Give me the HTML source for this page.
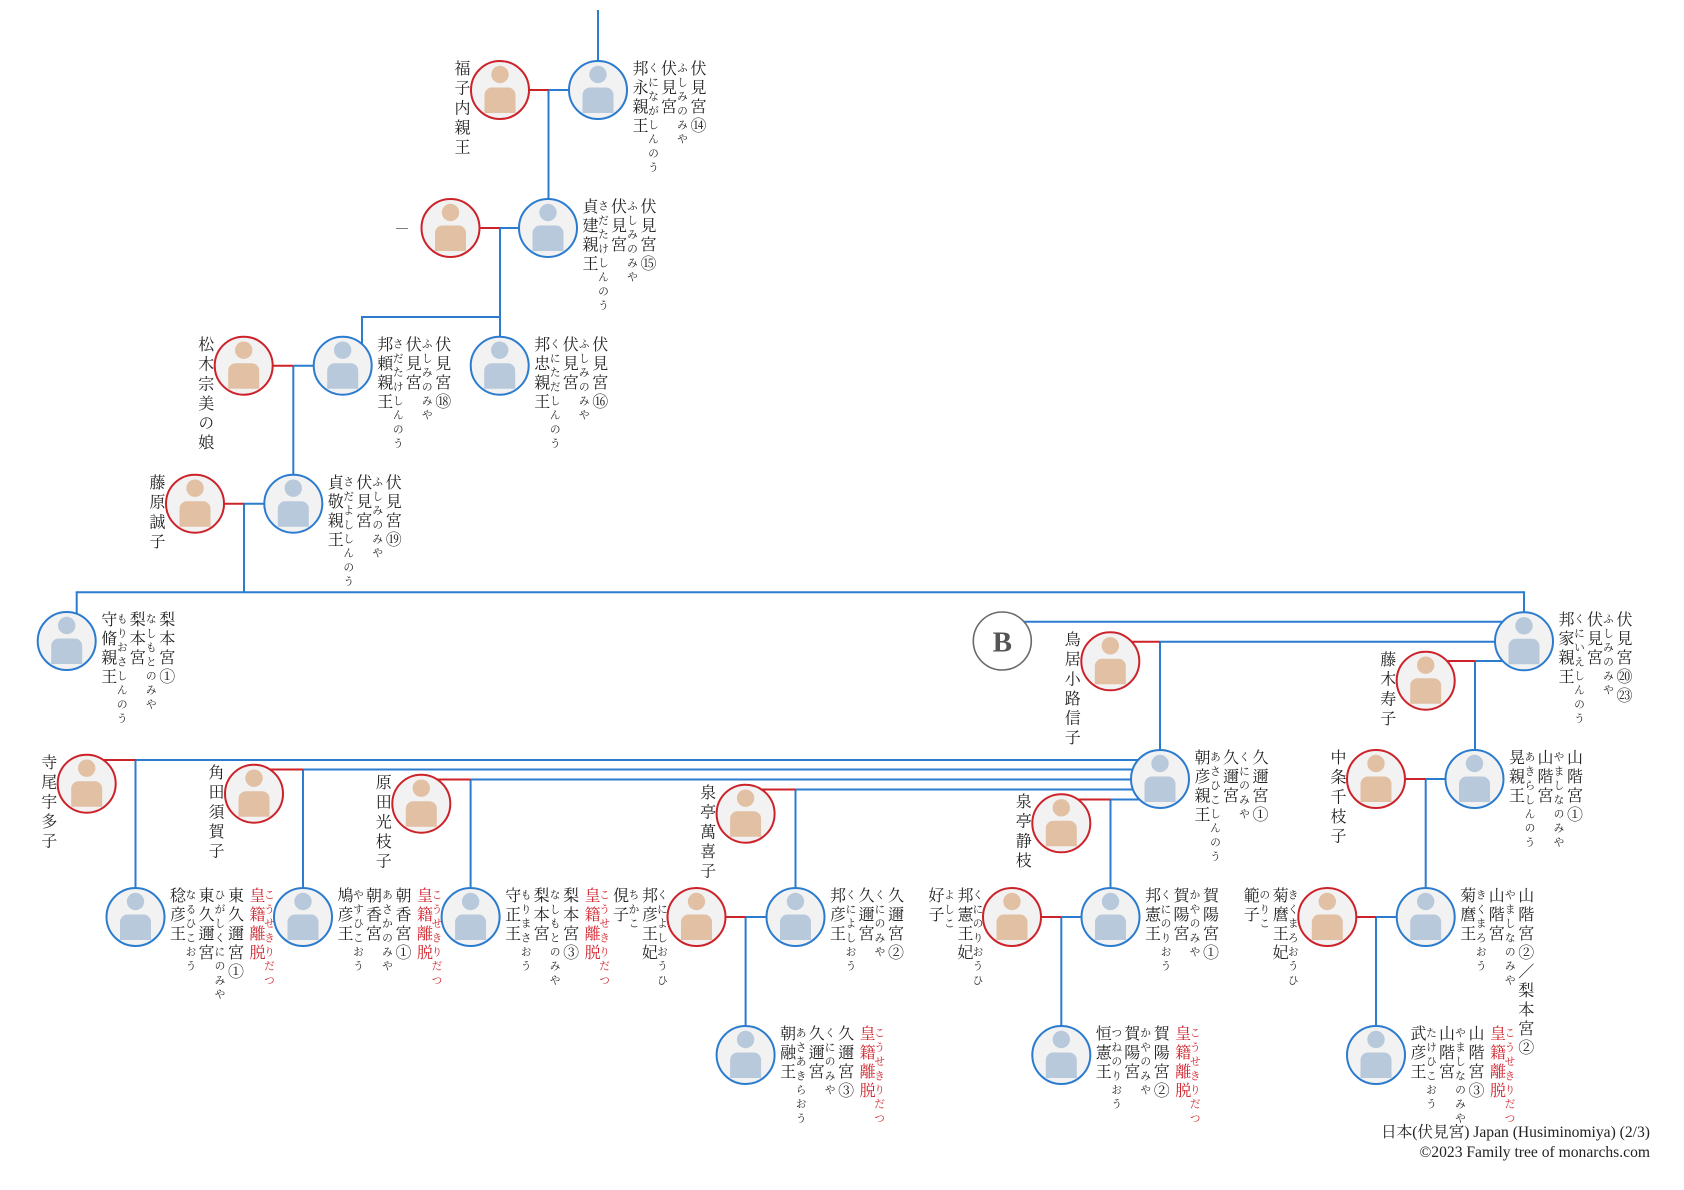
<!DOCTYPE html>
<html lang="ja">
<head>
<meta charset="utf-8">
<style>
html,body{margin:0;padding:0;background:#fff;}
body{width:1684px;height:1190px;position:relative;overflow:hidden;font-family:"Liberation Serif","Noto Serif CJK SC",serif;}
svg{position:absolute;left:0;top:0;}
.g{position:absolute;width:0;height:0;}
.g span{position:absolute;writing-mode:vertical-rl;white-space:nowrap;line-height:1;color:#222;font-family:"Liberation Serif","Noto Serif CJK SC",serif;}
.b{font-size:16px;letter-spacing:3px;top:-30px;}
.s{font-size:11px;letter-spacing:3.2px;top:-28px;}
.n{left:32px;} .nr{left:48.5px;} .h{left:60.5px;} .hr{left:77.5px;} .ti{left:90px;}
.rb{left:111.5px;} .rs{left:127px;}
.g .rb,.g .rs{color:#d0212a;}
.f{left:-48px;letter-spacing:3.6px !important;}
.fn{left:-86px;} .fnr{left:-69.5px;} .ft{left:-57px;} .ftr{left:-41px;}
.foot{position:absolute;right:34px;font-size:15.6px;line-height:20px;color:#222;white-space:nowrap;text-align:right;font-family:"Liberation Serif","Noto Serif CJK SC",serif;}
.dash{position:absolute;left:396px;top:221px;font-size:12px;line-height:12px;color:#222;}
</style>
</head>
<body>
<svg width="1684" height="1190" viewBox="0 0 1684 1190" xmlns="http://www.w3.org/2000/svg">
<defs>
<g id="M">
<circle r="29" fill="#f2f2f2" stroke="#2b7bcf" stroke-width="2"/>
<circle cy="-15.5" r="8.7" fill="#b8c9dc"/>
<path d="M-15.5,23 V5 A7.5,7.5 0 0 1 -8,-2.5 H8 A7.5,7.5 0 0 1 15.5,5 V23 Z" fill="#b8c9dc"/>
</g>
<g id="F">
<circle r="29" fill="#f2f2f2" stroke="#cc2229" stroke-width="2"/>
<circle cy="-15.5" r="8.7" fill="#e2c0a4"/>
<path d="M-15.5,23 V5 A7.5,7.5 0 0 1 -8,-2.5 H8 A7.5,7.5 0 0 1 15.5,5 V23 Z" fill="#e2c0a4"/>
</g>
</defs>

<g stroke="#2b7bcf" stroke-width="2" fill="none">
<line x1="598" y1="10" x2="598" y2="90"/>
<line x1="548.5" y1="90" x2="598" y2="90"/>
<line x1="548.5" y1="90" x2="548.5" y2="228"/>
<line x1="500" y1="228" x2="548" y2="228"/>
<line x1="500" y1="228" x2="500" y2="366"/>
<line x1="361" y1="317" x2="501" y2="317"/>
<line x1="362" y1="317" x2="362" y2="366"/>
<line x1="293.3" y1="365.7" x2="342.7" y2="365.7"/>
<line x1="293.3" y1="365.7" x2="293.3" y2="503.7"/>
<line x1="244" y1="503.7" x2="293.3" y2="503.7"/>
<line x1="244" y1="503.7" x2="244" y2="592.3"/>
<line x1="75.7" y1="592.3" x2="1525" y2="592.3"/>
<line x1="76.7" y1="592.3" x2="76.7" y2="641"/>
<line x1="1524" y1="592.3" x2="1524" y2="641"/>
<line x1="1002.3" y1="621.7" x2="1524" y2="621.7"/>
<line x1="1160" y1="641.7" x2="1524" y2="641.7"/>
<line x1="1160" y1="641.7" x2="1160" y2="779"/>
<line x1="1475" y1="661" x2="1524" y2="661"/>
<line x1="1475" y1="661" x2="1475" y2="779"/>
<line x1="1425.7" y1="779" x2="1474.5" y2="779"/>
<line x1="1425.7" y1="779" x2="1425.7" y2="917"/>
<line x1="135.5" y1="760" x2="1160" y2="760"/>
<line x1="135.5" y1="760" x2="135.5" y2="917"/>
<line x1="303" y1="769.5" x2="1160" y2="769.5"/>
<line x1="303" y1="769.5" x2="303" y2="917"/>
<line x1="470.6" y1="779.5" x2="1160" y2="779.5"/>
<line x1="470.6" y1="779.5" x2="470.6" y2="917"/>
<line x1="795.5" y1="789.5" x2="1160" y2="789.5"/>
<line x1="795.5" y1="789.5" x2="795.5" y2="917"/>
<line x1="1110.5" y1="799.5" x2="1160" y2="799.5"/>
<line x1="1110.5" y1="799.5" x2="1110.5" y2="917"/>
<line x1="745.6" y1="917" x2="795.5" y2="917"/>
<line x1="745.6" y1="917" x2="745.6" y2="1055"/>
<line x1="1061.3" y1="917" x2="1110.5" y2="917"/>
<line x1="1061.3" y1="917" x2="1061.3" y2="1055"/>
<line x1="1376" y1="917" x2="1425.7" y2="917"/>
<line x1="1376" y1="917" x2="1376" y2="1055"/>
</g>
<g stroke="#cc2229" stroke-width="2" fill="none">
<line x1="500" y1="90" x2="548.5" y2="90"/>
<line x1="450.5" y1="228" x2="500" y2="228"/>
<line x1="243.7" y1="365.7" x2="293.3" y2="365.7"/>
<line x1="195" y1="503.7" x2="244" y2="503.7"/>
<line x1="1110.3" y1="641.7" x2="1160" y2="641.7"/>
<line x1="1425.7" y1="661" x2="1475" y2="661"/>
<line x1="1376" y1="779" x2="1425.7" y2="779"/>
<line x1="86.7" y1="760" x2="135.5" y2="760"/>
<line x1="254" y1="769.5" x2="303" y2="769.5"/>
<line x1="421.3" y1="779.5" x2="470.6" y2="779.5"/>
<line x1="745.6" y1="789.5" x2="795.5" y2="789.5"/>
<line x1="1061.3" y1="799.5" x2="1110.5" y2="799.5"/>
<line x1="696.5" y1="917" x2="745.6" y2="917"/>
<line x1="1012" y1="917" x2="1061.3" y2="917"/>
<line x1="1327.3" y1="917" x2="1376" y2="917"/>
</g>

<!-- B marker -->
<circle cx="1002.3" cy="641" r="29" fill="#fff" stroke="#6a6a6a" stroke-width="1.6"/>
<text x="1002.3" y="651.5" text-anchor="middle" font-family="Liberation Serif, serif" font-weight="bold" font-size="29" fill="#555">B</text>

<!-- males -->
<use href="#M" x="598" y="90"/>
<use href="#M" x="548" y="228"/>
<use href="#M" x="342.7" y="365.7"/>
<use href="#M" x="499.7" y="365.7"/>
<use href="#M" x="293.3" y="503.7"/>
<use href="#M" x="66.7" y="641"/>
<use href="#M" x="1524" y="641.3"/>
<use href="#M" x="1160" y="779"/>
<use href="#M" x="1474.5" y="779"/>
<use href="#M" x="135.5" y="917"/>
<use href="#M" x="303" y="917"/>
<use href="#M" x="470.6" y="917"/>
<use href="#M" x="795.5" y="917"/>
<use href="#M" x="1110.5" y="917"/>
<use href="#M" x="1425.7" y="917"/>
<use href="#M" x="745.6" y="1055"/>
<use href="#M" x="1061.3" y="1055"/>
<use href="#M" x="1376" y="1055"/>
<!-- females -->
<use href="#F" x="500" y="90"/>
<use href="#F" x="450.5" y="228"/>
<use href="#F" x="243.7" y="365.7"/>
<use href="#F" x="195" y="503.7"/>
<use href="#F" x="1110.3" y="661.3"/>
<use href="#F" x="1425.7" y="680.7"/>
<use href="#F" x="1376" y="779"/>
<use href="#F" x="86.7" y="783.7"/>
<use href="#F" x="254" y="793.7"/>
<use href="#F" x="421.3" y="803.7"/>
<use href="#F" x="745.6" y="813.7"/>
<use href="#F" x="1061.3" y="823.3"/>
<use href="#F" x="696.5" y="917"/>
<use href="#F" x="1012" y="917"/>
<use href="#F" x="1327.3" y="917"/>
</svg>

<span class="dash">—</span>

<!-- male labels -->
<div class="g" style="left:598px;top:90px"><span class="b n">邦永親王</span><span class="s nr">くにながしんのう</span><span class="b h">伏見宮</span><span class="s hr">ふしみのみや</span><span class="b ti">伏見宮⑭</span></div>
<div class="g" style="left:548px;top:228px"><span class="b n">貞建親王</span><span class="s nr">さだたけしんのう</span><span class="b h">伏見宮</span><span class="s hr">ふしみのみや</span><span class="b ti">伏見宮⑮</span></div>
<div class="g" style="left:342.7px;top:365.7px"><span class="b n">邦頼親王</span><span class="s nr">さだたけしんのう</span><span class="b h">伏見宮</span><span class="s hr">ふしみのみや</span><span class="b ti">伏見宮⑱</span></div>
<div class="g" style="left:499.7px;top:365.7px"><span class="b n">邦忠親王</span><span class="s nr">くにただしんのう</span><span class="b h">伏見宮</span><span class="s hr">ふしみのみや</span><span class="b ti">伏見宮⑯</span></div>
<div class="g" style="left:293.3px;top:503.7px"><span class="b n">貞敬親王</span><span class="s nr">さだよししんのう</span><span class="b h">伏見宮</span><span class="s hr">ふしみのみや</span><span class="b ti">伏見宮⑲</span></div>
<div class="g" style="left:66.7px;top:641px"><span class="b n">守脩親王</span><span class="s nr">もりおさしんのう</span><span class="b h">梨本宮</span><span class="s hr">なしもとのみや</span><span class="b ti">梨本宮①</span></div>
<div class="g" style="left:1524px;top:641.3px"><span class="b n">邦家親王</span><span class="s nr">くにいえしんのう</span><span class="b h">伏見宮</span><span class="s hr">ふしみのみや</span><span class="b ti">伏見宮⑳㉓</span></div>
<div class="g" style="left:1160px;top:779px"><span class="b n">朝彦親王</span><span class="s nr">あさひこしんのう</span><span class="b h">久邇宮</span><span class="s hr">くにのみや</span><span class="b ti">久邇宮①</span></div>
<div class="g" style="left:1474.5px;top:779px"><span class="b n">晃親王</span><span class="s nr">あきらしんのう</span><span class="b h">山階宮</span><span class="s hr">やましなのみや</span><span class="b ti">山階宮①</span></div>
<div class="g" style="left:135.5px;top:917px"><span class="b n">稔彦王</span><span class="s nr">なるひこおう</span><span class="b h">東久邇宮</span><span class="s hr">ひがしくにのみや</span><span class="b ti">東久邇宮①</span><span class="b rb">皇籍離脱</span><span class="s rs">こうせきりだつ</span></div>
<div class="g" style="left:303px;top:917px"><span class="b n">鳩彦王</span><span class="s nr">やすひこおう</span><span class="b h">朝香宮</span><span class="s hr">あさかのみや</span><span class="b ti">朝香宮①</span><span class="b rb">皇籍離脱</span><span class="s rs">こうせきりだつ</span></div>
<div class="g" style="left:470.6px;top:917px"><span class="b n">守正王</span><span class="s nr">もりまさおう</span><span class="b h">梨本宮</span><span class="s hr">なしもとのみや</span><span class="b ti">梨本宮③</span><span class="b rb">皇籍離脱</span><span class="s rs">こうせきりだつ</span></div>
<div class="g" style="left:795.5px;top:917px"><span class="b n">邦彦王</span><span class="s nr">くによしおう</span><span class="b h">久邇宮</span><span class="s hr">くにのみや</span><span class="b ti">久邇宮②</span></div>
<div class="g" style="left:1110.5px;top:917px"><span class="b n">邦憲王</span><span class="s nr">くにのりおう</span><span class="b h">賀陽宮</span><span class="s hr">かやのみや</span><span class="b ti">賀陽宮①</span></div>
<div class="g" style="left:1425.7px;top:917px"><span class="b n">菊麿王</span><span class="s nr">きくまろおう</span><span class="b h">山階宮</span><span class="s hr">やましなのみや</span><span class="b ti">山階宮②／梨本宮②</span></div>
<div class="g" style="left:745.6px;top:1055px"><span class="b n">朝融王</span><span class="s nr">あさあきらおう</span><span class="b h">久邇宮</span><span class="s hr">くにのみや</span><span class="b ti">久邇宮③</span><span class="b rb">皇籍離脱</span><span class="s rs">こうせきりだつ</span></div>
<div class="g" style="left:1061.3px;top:1055px"><span class="b n">恒憲王</span><span class="s nr">つねのりおう</span><span class="b h">賀陽宮</span><span class="s hr">かやのみや</span><span class="b ti">賀陽宮②</span><span class="b rb">皇籍離脱</span><span class="s rs">こうせきりだつ</span></div>
<div class="g" style="left:1376px;top:1055px"><span class="b n">武彦王</span><span class="s nr">たけひこおう</span><span class="b h">山階宮</span><span class="s hr">やましなのみや</span><span class="b ti">山階宮③</span><span class="b rb">皇籍離脱</span><span class="s rs">こうせきりだつ</span></div>

<!-- female labels -->
<div class="g" style="left:500px;top:90px"><span class="b f">福子内親王</span></div>
<div class="g" style="left:243.7px;top:365.7px"><span class="b f">松木宗美の娘</span></div>
<div class="g" style="left:195px;top:503.7px"><span class="b f">藤原誠子</span></div>
<div class="g" style="left:1110.3px;top:661.3px"><span class="b f">鳥居小路信子</span></div>
<div class="g" style="left:1425.7px;top:680.7px"><span class="b f">藤木寿子</span></div>
<div class="g" style="left:1376px;top:779px"><span class="b f">中条千枝子</span></div>
<div class="g" style="left:86.7px;top:783.7px"><span class="b f">寺尾宇多子</span></div>
<div class="g" style="left:254px;top:793.7px"><span class="b f">角田須賀子</span></div>
<div class="g" style="left:421.3px;top:803.7px"><span class="b f">原田光枝子</span></div>
<div class="g" style="left:745.6px;top:813.7px"><span class="b f">泉亭萬喜子</span></div>
<div class="g" style="left:1061.3px;top:823.3px"><span class="b f">泉亭静枝</span></div>

<div class="g" style="left:696.5px;top:917px"><span class="b fn">俔子</span><span class="s fnr">ちかこ</span><span class="b ft">邦彦王妃</span><span class="s ftr">くによしおうひ</span></div>
<div class="g" style="left:1012px;top:917px"><span class="b fn">好子</span><span class="s fnr">よしこ</span><span class="b ft">邦憲王妃</span><span class="s ftr">くにのりおうひ</span></div>
<div class="g" style="left:1327.3px;top:917px"><span class="b fn">範子</span><span class="s fnr">のりこ</span><span class="b ft">菊麿王妃</span><span class="s ftr">きくまろおうひ</span></div>

<div class="foot" style="top:1123px">日本(伏見宮) Japan (Husiminomiya) (2/3)</div>
<div class="foot" style="top:1143px">©2023 Family tree of monarchs.com</div>
</body>
</html>
